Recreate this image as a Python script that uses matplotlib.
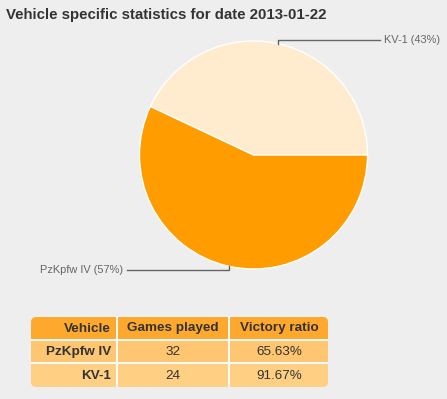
import matplotlib
matplotlib.use("Agg")
import matplotlib.pyplot as plt
from matplotlib.patches import Rectangle, FancyBboxPatch
import numpy as np

title = "Vehicle specific statistics for date 2013-01-22"
vehicles = ["KV-1", "PzKpfw IV"]
shares = [43, 57]
pie_colors = ["#FFEBCD", "#FF9C00"]

table_header = ["Vehicle", "Games played", "Victory ratio"]
table_vehicles = ["PzKpfw IV", "KV-1"]
games_played = [32, 24]
victory_ratio = ["65.63%", "91.67%"]

W, H = 447, 399
BG = "#EEEEEE"
plt.rcParams['font.family'] = ['Liberation Sans', 'DejaVu Sans']

fig = plt.figure(figsize=(W / 100, H / 100), dpi=100, facecolor=BG)

# Pie axes positioned in pixel space
cx, cy, R = 253.5, 155, 114
ax = fig.add_axes([(cx - R) / W, 1 - (cy + R) / H, 2 * R / W, 2 * R / H])
ax.set_facecolor(BG)
wedges, _ = ax.pie(shares, colors=pie_colors, startangle=0, counterclock=True,
                   radius=1, wedgeprops=dict(edgecolor="white", linewidth=1))
ax.set_xlim(-1, 1)
ax.set_ylim(-1, 1)
ax.set_aspect("equal")
ax.axis("off")

for w, name, s in zip(wedges, vehicles, shares):
    mid = np.deg2rad((w.theta1 + w.theta2) / 2)
    x0, y0 = np.cos(mid), np.sin(mid)
    y1 = y0 + 0.03 * np.sign(y0)
    side = np.sign(x0)
    x2 = 1.11 * side
    ax.plot([x0, x0, x2], [y0, y1, y1], color="#666666", lw=1, clip_on=False)
    ax.text(x2 + 0.035 * side, y1, f"{name} ({s}%)", ha="left" if side > 0 else "right",
            va="center", fontsize=7.9, color="#666666", clip_on=False)

# Overlay axes in pixel coordinates for title and table
ov = fig.add_axes([0, 0, 1, 1])
ov.set_xlim(0, W)
ov.set_ylim(H, 0)
ov.axis("off")
ov.patch.set_alpha(0)

ov.text(6, 15, title, fontsize=10.85, fontweight="bold", color="#333333",
        ha="left", va="center")

cols = [(31, 116), (118, 228), (230, 328)]
rows = [(317, 339), (341, 362), (364.3, 387)]
row_colors = ["#FFA82E", "#FFC672", "#FFD084"]

clip = FancyBboxPatch((31, 317), 328 - 31, 387 - 317,
                      boxstyle="round,pad=0,rounding_size=5",
                      transform=ov.transData, facecolor="#FAFAFA", edgecolor="none")
ov.add_patch(clip)

cells = [table_header] + [[v, str(g), r] for v, g, r in zip(table_vehicles, games_played, victory_ratio)]
for ri, ((y0, y1), rc) in enumerate(zip(rows, row_colors)):
    for ci, (x0, x1) in enumerate(cols):
        rect = Rectangle((x0, y0), x1 - x0, y1 - y0, facecolor=rc, edgecolor="none")
        ov.add_patch(rect)
        rect.set_clip_path(clip)
        txt = cells[ri][ci]
        bold = (ri == 0) or (ci == 0)
        if ci == 0:
            ov.text(x1 - 5, (y0 + y1) / 2 + 0.5, txt, ha="right", va="center",
                    fontsize=9.7, fontweight="bold" if bold else "normal", color="#333333")
        else:
            ov.text((x0 + x1) / 2, (y0 + y1) / 2 + 0.5, txt, ha="center", va="center",
                    fontsize=9.7, fontweight="bold" if bold else "normal", color="#333333")

fig.savefig("out.png", dpi=100, facecolor=BG)
